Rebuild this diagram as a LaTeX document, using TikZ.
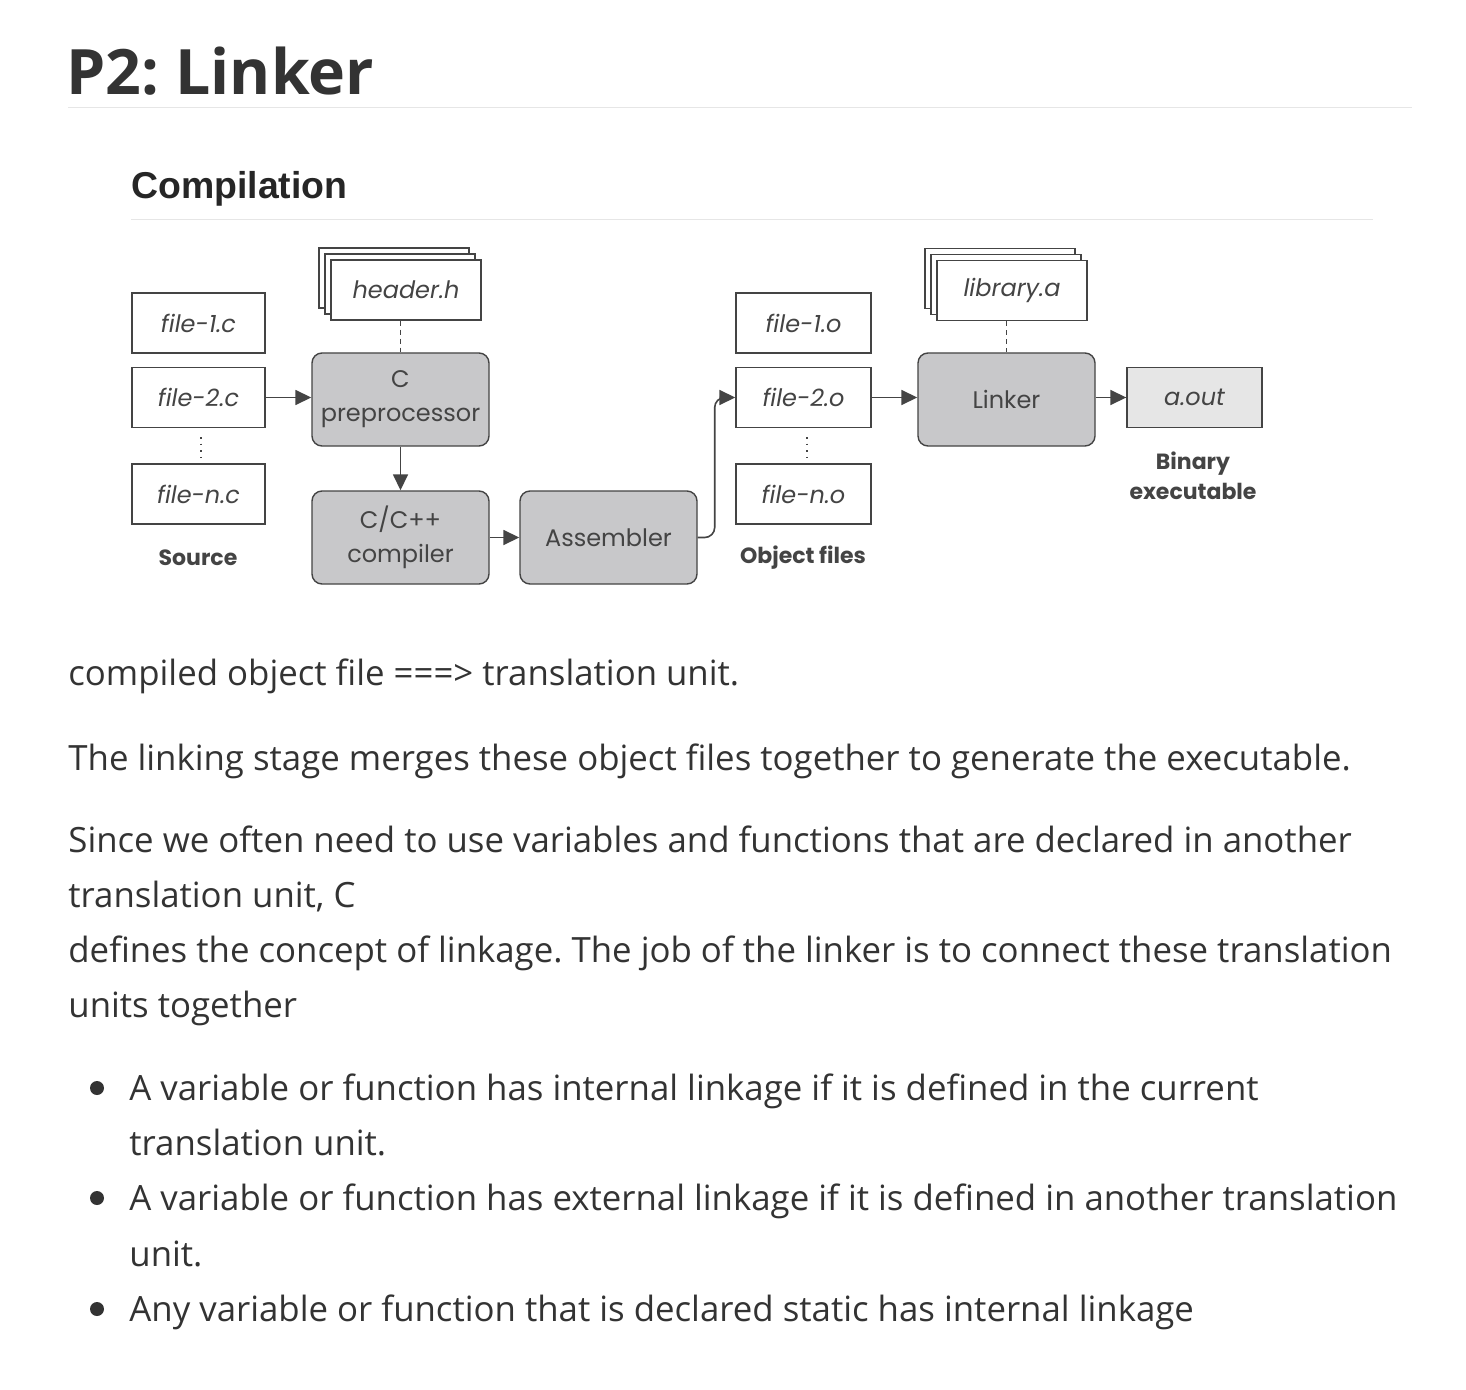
\documentclass[tikz,border=0pt]{standalone}
\usepackage{fontspec}
\setmainfont{Open Sans}
\newfontfamily\headfont{Liberation Sans}
\newfontfamily\diagfont{Poppins}
\usetikzlibrary{arrows.meta}
\definecolor{txt}{HTML}{333333}
\definecolor{ln}{HTML}{444444}
\definecolor{procfill}{HTML}{C8C8CA}
\definecolor{outfill}{HTML}{E6E6E6}
\definecolor{rulec}{HTML}{E6E6E6}
\frenchspacing
\tikzset{
  filebox/.style={draw=ln, line width=0.7pt, fill=white, minimum width=66.5pt, minimum height=30pt, inner sep=0pt, font=\diagfont\itshape\fontsize{12}{14}\selectfont, text=ln},
  stackbox/.style={filebox, minimum width=75pt},
  procbox/.style={draw=ln, line width=0.7pt, fill=procfill, rounded corners=5pt, minimum width=88.5pt, minimum height=46.5pt, inner sep=0pt, align=center, font=\diagfont\fontsize{12}{17}\selectfont, text=ln},
  lbl/.style={font=\diagfont\bfseries\fontsize{11}{15}\selectfont, text=ln, align=center, inner sep=0pt},
  conn/.style={draw=ln, line width=0.8pt, -{Triangle[length=8pt,width=7.5pt]}},
  dashline/.style={draw=ln, line width=0.7pt, dash pattern=on 2.5pt off 2pt},
  vdots/.style={draw=ln, line width=1pt, dash pattern=on 0.8pt off 2.5pt},
  body/.style={anchor=base west, inner sep=0pt, text=txt, font=\fontsize{17.4}{20}\selectfont},
}
\begin{document}
\begin{tikzpicture}[x=0.5pt, y=-0.5pt]
\useasboundingbox[fill=white] (0,0) rectangle (1466,1390);
% headings
\node[anchor=base west, inner sep=0pt, text=txt, font=\bfseries\fontsize{31.3}{40}\selectfont] (title) at (66,95) {P2: Linker};
\draw[rulec, line width=0.5pt] (68,108) -- (1412,108);
\node[anchor=base west, inner sep=0pt, text=black!85, font=\headfont\bfseries\fontsize{18.7}{24}\selectfont] (comp) at (131,199) {Compilation};
\draw[rulec, line width=0.5pt] (131,220) -- (1373,220);

% source files
\node[filebox] (f1c) at (198.5,323) {file-1.c};
\node[filebox] (f2c) at (198.5,397.5) {file-2.c};
\node[filebox] (fnc) at (198.5,494) {file-n.c};
\coordinate (sd1) at (201,437);
\coordinate (sd2) at (201,460);
\draw[vdots] (sd1) -- (sd2);
\node[lbl] (src) at (198,558) {Source};

% header stack
\node[stackbox] (h3) at (394,278) {};
\node[stackbox] (h2) at (400,284) {};
\node[stackbox] (h1) at (406,290) {header.h};

% processes
\node[procbox] (pre) at (400.5,399.5) {C\\preprocessor};
\node[procbox] (cc) at (400.5,537.5) {C/C++\\compiler};
\node[procbox] (asm) at (608.5,537.5) {Assembler};

% object files
\node[filebox, minimum width=67.5pt] (f1o) at (803.5,323) {file-1.o};
\node[filebox, minimum width=67.5pt] (f2o) at (803.5,397.5) {file-2.o};
\node[filebox, minimum width=67.5pt] (fno) at (803.5,494) {file-n.o};
\coordinate (od1) at (807,437);
\coordinate (od2) at (807,460);
\draw[vdots] (od1) -- (od2);
\node[lbl] (obj) at (803,558) {Object files};

% library stack
\node[stackbox] (l3) at (1000,278.5) {};
\node[stackbox] (l2) at (1006,284.5) {};
\node[stackbox] (l1) at (1012,290.5) {library.a};

\node[procbox] (lnk) at (1006.5,399.5) {Linker};
\node[filebox, minimum width=67.5pt, fill=outfill] (aout) at (1194.5,397.5) {a.out};
\node[lbl] (bin) at (1193,476) {Binary\\executable};

% connectors
\draw[dashline] (h1.south -| pre.north) -- (pre.north);
\draw[dashline] (l1.south -| lnk.north) -- (lnk.north);
\draw[conn] (f2c.east) -- (pre.west |- f2c.east);
\draw[conn] (pre.south) -- (cc.north);
\draw[conn] (cc.east) -- (asm.west);
\draw[conn, rounded corners=5pt] (asm.east) -- ++(17,0) |- (f2o.west);
\draw[conn] (f2o.east) -- (lnk.west |- f2o.east);
\draw[conn] (lnk.east |- aout.west) -- (aout.west);

% body text
\node[body] (p1) at (68,685) {compiled object file ===> translation unit.};
\node[body] (p2) at (68,770) {The linking stage merges these object files together to generate the executable.};
\node[body] (p3a) at (68,852) {Since we often need to use variables and functions that are declared in another};
\node[body] (p3b) at (68,907) {translation unit, C};
\node[body] (p3c) at (68,962) {defines the concept of linkage. The job of the linker is to connect these translation};
\node[body] (p3d) at (68,1017) {units together};

\fill[txt] (97,1088) circle (7) coordinate (b1);
\fill[txt] (97,1198) circle (7) coordinate (b2);
\fill[txt] (97,1309) circle (7) coordinate (b3);
\node[body] (i1a) at (129,1100) {A variable or function has internal linkage if it is defined in the current};
\node[body] (i1b) at (129,1155) {translation unit.};
\node[body] (i2a) at (129,1210) {A variable or function has external linkage if it is defined in another translation};
\node[body] (i2b) at (129,1266) {unit.};
\node[body] (i3a) at (129,1321) {Any variable or function that is declared static has internal linkage};
\end{tikzpicture}
\end{document}
